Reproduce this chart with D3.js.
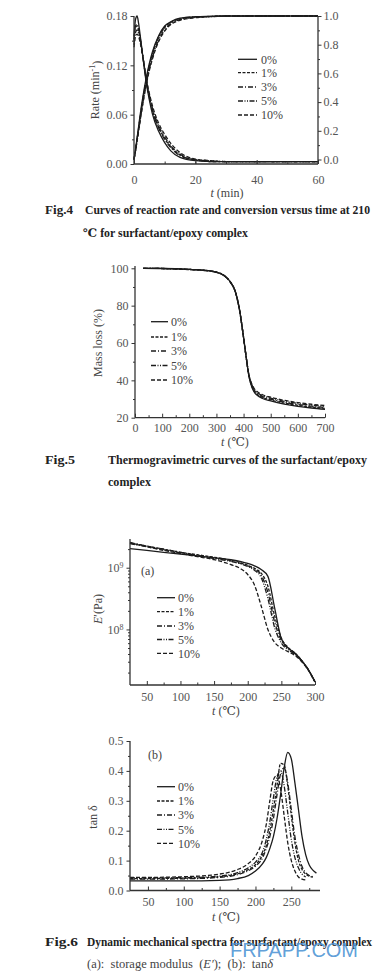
<!DOCTYPE html>
<html>
<head>
<meta charset="utf-8">
<script src="https://cdn.jsdelivr.net/npm/d3@7"></script>
<style>
body{margin:0;background:#fff}
svg{display:block}
text{font-family:"Liberation Serif","DejaVu Serif",serif}
.ax text{fill:#555;font-size:12px;font-family:"Liberation Serif","DejaVu Serif",serif}
.ax{color:#333}
.lab{fill:#444;font-size:12px}
.cap{fill:#222;font-size:11.5px;font-weight:bold}
</style>
</head>
<body>
<svg id="page" width="387" height="973"></svg>
<script>
var seriesNames = ["0%", "1%", "3%", "5%", "10%"]
var dashes = [null, "3,1.5", "5,2,1,2", "5,1.5,1,1.5,1,1.5", "4,2"]

// Fig.4 reaction rate (min^-1) and conversion vs time (min)
var rateTime = [0, 0.5, 1, 1.5, 2, 3, 4, 5, 6, 8, 10, 12, 15, 20, 25, 30, 40, 50, 60]
var rate0  = [.155, .176, .180, .171, .157, .127, .099, .078, .061, .040, .026, .016, .008, .004, .003, .003, .003, .003, .003]
var rate1  = [.150, .166, .168, .163, .153, .128, .102, .082, .066, .045, .031, .021, .011, .005, .003, .003, .003, .003, .003]
var rate3  = [.152, .168, .170, .164, .154, .128, .101, .081, .065, .044, .030, .020, .010, .005, .003, .003, .003, .003, .003]
var rate5  = [.145, .160, .163, .159, .151, .128, .103, .084, .068, .047, .033, .022, .012, .005, .004, .003, .003, .003, .003]
var rate10 = [.142, .155, .158, .155, .148, .127, .104, .086, .071, .050, .036, .025, .014, .006, .004, .003, .003, .003, .003]
var conv0  = [0, .07, .15, .23, .31, .45, .57, .67, .75, .86, .93, .96, .985, .995, .998, 1, 1, 1, 1]
var conv1  = [0, .065, .14, .215, .29, .43, .55, .65, .73, .85, .92, .955, .98, .993, .997, 1, 1, 1, 1]
var conv3  = [0, .066, .142, .218, .295, .435, .555, .655, .735, .853, .922, .957, .982, .994, .997, 1, 1, 1, 1]
var conv5  = [0, .06, .13, .20, .27, .41, .53, .63, .71, .83, .905, .945, .975, .99, .996, .999, 1, 1, 1]
var conv10 = [0, .06, .13, .20, .27, .40, .52, .62, .70, .82, .895, .94, .97, .988, .995, .999, 1, 1, 1]

// Fig.5 mass (%) vs temperature
var tgaTemp = [30, 100, 200, 250, 300, 330, 350, 370, 385, 400, 410, 420, 430, 440, 450, 470, 500, 550, 600, 650, 700]
var mass0  = [100, 99.9, 99.4, 99, 98, 96, 93, 87.5, 78, 63, 52, 42, 36.5, 33.5, 32, 30.3, 29, 27.3, 26.1, 25.2, 24.5]
var mass1  = [100, 99.9, 99.4, 99, 98, 96, 93, 87.4, 77.9, 63, 52, 42.2, 37, 34, 32.5, 30.8, 29.5, 27.8, 26.6, 25.7, 25]
var mass3  = [100, 99.9, 99.4, 99, 97.9, 95.9, 92.9, 87.3, 77.8, 62.9, 52, 42.4, 37.4, 34.5, 33, 31.3, 30, 28.3, 27.1, 26.2, 25.5]
var mass5  = [100, 99.9, 99.4, 98.9, 97.9, 95.9, 92.8, 87.2, 77.7, 62.8, 52, 42.6, 37.8, 35, 33.5, 31.8, 30.5, 28.8, 27.6, 26.7, 26]
var mass10 = [100, 99.9, 99.3, 98.9, 97.8, 95.8, 92.7, 87.1, 77.6, 62.7, 52, 42.8, 38.2, 35.5, 34, 32.3, 31, 29.3, 28.1, 27.2, 26.5]

// Fig.6a log10 of E' (Pa) vs temperature
var dmaTemp = [25, 50, 75, 100, 125, 150, 175, 190, 200, 210, 220, 230, 240, 250, 260, 270, 280, 290, 300]
var logE0  = [9.31, 9.28, 9.25, 9.22, 9.19, 9.16, 9.13, 9.10, 9.07, 9.03, 8.97, 8.86, 8.35, 7.85, 7.70, 7.62, 7.50, 7.35, 7.15]
var logE1  = [9.40, 9.35, 9.30, 9.25, 9.21, 9.17, 9.12, 9.08, 9.04, 8.99, 8.91, 8.70, 8.22, 7.86, 7.71, 7.62, 7.50, 7.35, 7.15]
var logE3  = [9.41, 9.35, 9.30, 9.25, 9.20, 9.16, 9.11, 9.07, 9.03, 8.98, 8.88, 8.60, 8.12, 7.82, 7.69, 7.61, 7.50, 7.35, 7.15]
var logE5  = [9.39, 9.34, 9.29, 9.24, 9.19, 9.15, 9.10, 9.06, 9.02, 8.96, 8.84, 8.50, 8.03, 7.78, 7.67, 7.60, 7.49, 7.35, 7.15]
var logE10 = [9.40, 9.34, 9.28, 9.23, 9.18, 9.13, 9.05, 8.98, 8.89, 8.72, 8.38, 8.00, 7.79, 7.70, 7.64, 7.58, 7.48, 7.34, 7.15]

// Fig.6b tan delta vs temperature
var tanTemp = [25, 50, 100, 150, 175, 190, 200, 210, 215, 220, 225, 230, 235, 240, 245, 250, 255, 260, 265, 270, 275, 280, 285]
var tan0  = [.032, .032, .032, .034, .040, .050, .065, .090, .110, .140, .180, .240, .320, .410, .462, .440, .360, .270, .180, .120, .085, .068, .058]
var tan1  = [.040, .040, .041, .046, .056, .070, .086, .120, .150, .200, .270, .350, .425, .420, .350, .250, .160, .100, .070, .055, .048, .045, null]
var tan3  = [.038, .038, .039, .044, .053, .066, .081, .110, .140, .180, .240, .320, .390, .410, .360, .270, .180, .120, .080, .060, .050, .046, null]
var tan5  = [.042, .042, .043, .048, .060, .076, .095, .130, .170, .230, .310, .380, .400, .350, .260, .170, .110, .075, .055, .045, null, null, null]
var tan10 = [.044, .044, .046, .055, .070, .090, .115, .170, .220, .300, .370, .385, .340, .250, .160, .100, .065, .045, .038, .035, null, null, null]

var svg = d3.select("#page")
var ink = "#1c1c1c"

function bottomAxis(x, y0, major, minor, pad){
    var m = svg.append("g").attr("class", "ax").attr("transform", "translate(0," + y0 + ")")
        .call(d3.axisBottom(x).tickValues(minor).tickSize(-2.5).tickFormat(""))
    m.select(".domain").remove()
    var g = svg.append("g").attr("class", "ax").attr("transform", "translate(0," + y0 + ")")
        .call(d3.axisBottom(x).tickValues(major).tickSize(-4).tickPadding(pad))
    g.select(".domain").remove()
    svg.append("line")
        .attr("x1", x.range()[0]).attr("x2", x.range()[1])
        .attr("y1", y0).attr("y2", y0)
        .attr("stroke", "#333").attr("stroke-width", 1.3)
}

function sideAxis(y, x0, major, minor, fmt, top, bottom, right){
    var mk = right ? d3.axisRight : d3.axisLeft
    var m = svg.append("g").attr("class", "ax").attr("transform", "translate(" + x0 + ",0)")
        .call(mk(y).tickValues(minor).tickSize(2).tickFormat(""))
    m.select(".domain").remove()
    var g = svg.append("g").attr("class", "ax").attr("transform", "translate(" + x0 + ",0)")
        .call(mk(y).tickValues(major).tickSize(3.5).tickPadding(right ? 2 : 3).tickFormat(fmt))
    g.select(".domain").remove()
    svg.append("line")
        .attr("x1", x0).attr("x2", x0)
        .attr("y1", top).attr("y2", bottom)
        .attr("stroke", "#333").attr("stroke-width", 1.3)
    return g
}

function drawSeries(x, y, xs, list){
    list.forEach(function(vals, i){
        var pts = xs.map(function(t, j){ return {t: t, v: vals[j]} })
        var line = d3.line()
            .defined(function(d){ return d.v != null })
            .x(function(d){ return x(d.t) })
            .y(function(d){ return y(d.v) })
            .curve(d3.curveMonotoneX)
        svg.append("path")
            .datum(pts)
            .attr("d", line)
            .attr("fill", "none")
            .attr("stroke", ink)
            .attr("stroke-width", 1.3)
            .attr("stroke-dasharray", dashes[i])
    })
}

function drawLegend(x1, x2, tx, ys){
    seriesNames.forEach(function(name, i){
        svg.append("line")
            .attr("x1", x1).attr("x2", x2)
            .attr("y1", ys[i]).attr("y2", ys[i])
            .attr("stroke", ink).attr("stroke-width", 1.3)
            .attr("stroke-dasharray", dashes[i])
        svg.append("text").attr("class", "lab")
            .attr("x", tx).attr("y", ys[i]).attr("dy", "0.35em")
            .text(name)
    })
}

function yTitle(x, y){
    return svg.append("text").attr("class", "lab")
        .attr("transform", "translate(" + x + "," + y + ") rotate(-90)")
        .attr("text-anchor", "middle").attr("dy", "0.35em")
}

function tTitle(x, y, unit){
    var t = svg.append("text").attr("class", "lab")
        .attr("x", x).attr("y", y).attr("text-anchor", "middle")
    t.append("tspan").attr("font-style", "italic").text("t")
    t.append("tspan").text(unit)
}

function caption(x, y, str, len, cls){
    return svg.append("text").attr("class", cls || "cap")
        .attr("x", x).attr("y", y)
        .attr("textLength", len).attr("lengthAdjust", "spacingAndGlyphs")
        .text(str)
}

// ---------- Fig.4 ----------
var x1 = d3.scaleLinear().domain([0, 60]).range([134, 318])
var yRate = d3.scaleLinear().domain([0, 0.18]).range([164, 16])
var yConv = d3.scaleLinear().domain([0, 1]).range([159.5, 16])

drawSeries(x1, yRate, rateTime, [rate0, rate1, rate3, rate5, rate10])
drawSeries(x1, yConv, rateTime, [conv0, conv1, conv3, conv5, conv10])
bottomAxis(x1, 164, [0, 20, 40, 60], d3.range(10, 60, 10), 11)
sideAxis(yRate, 134, [0, 0.06, 0.12, 0.18], [0.03, 0.09, 0.15], d3.format(".2f"), 16, 164, false)
sideAxis(yConv, 318, [0, 0.2, 0.4, 0.6, 0.8, 1.0], [0.1, 0.3, 0.5, 0.7, 0.9], d3.format(".1f"), 16, 164, true)
drawLegend(238, 257, 261, [59.3, 72.7, 87, 101, 115])
var rt = yTitle(95, 90)
rt.append("tspan").text("Rate (min")
rt.append("tspan").attr("dy", "-0.5em").attr("font-size", "8px").text("-1")
rt.append("tspan").attr("dy", "0.5em").text(")")
tTitle(227, 197, " (min)")

caption(45, 214, "Fig.4", 28)
caption(85, 214, "Curves of reaction rate and conversion versus time at 210", 285)
caption(83, 237, "\u2103  for surfactant/epoxy complex", 165)

// ---------- Fig.5 ----------
var x2 = d3.scaleLinear().domain([0, 700]).range([135, 325])
var yMass = d3.scaleLinear().domain([20, 100]).range([417.7, 268.3])

drawSeries(x2, yMass, tgaTemp, [mass0, mass1, mass3, mass5, mass10])
bottomAxis(x2, 417.7, d3.range(0, 701, 100), d3.range(50, 700, 100), 6)
sideAxis(yMass, 135, [20, 40, 60, 80, 100], [30, 50, 70, 90], d3.format("d"), 266, 417.7, false)
drawLegend(151, 168, 171, [321.7, 337, 351, 365.5, 380])
yTitle(98, 343).text("Mass loss (%)")
tTitle(235, 446, " (\u2103)")

caption(45, 464, "Fig.5", 30)
caption(108, 464, "Thermogravimetric curves of the surfactant/epoxy", 259)
caption(108, 486, "complex", 43)

// ---------- Fig.6a ----------
var x3 = d3.scaleLinear().domain([25, 300]).range([130, 315])
var yE = d3.scaleLog().domain([Math.pow(10, 7.1), Math.pow(10, 9.465)]).range([685, 539])
var eMinor = [2e7, 3e7, 4e7, 5e7, 6e7, 7e7, 8e7, 9e7, 2e8, 3e8, 4e8, 5e8, 6e8, 7e8, 8e8, 9e8, 2e9]

drawSeries(x3, function(v){ return yE(Math.pow(10, v)) }, dmaTemp, [logE0, logE1, logE3, logE5, logE10])
bottomAxis(x3, 685, [50, 100, 150, 200, 250, 300], [75, 125, 175, 225, 275], 7)
var ga = sideAxis(yE, 130, [1e8, 1e9], eMinor, function(){ return "" }, 539, 685, false)
ga.selectAll(".tick").filter(function(d){ return d === 1e8 || d === 1e9 })
    .select("text")
    .each(function(d){
        var t = d3.select(this)
        t.append("tspan").text("10")
        t.append("tspan").attr("dy", "-0.5em").attr("font-size", "8px").text(Math.round(Math.log10(d)))
    })
svg.append("text").attr("class", "lab").attr("x", 141).attr("y", 571).attr("dy", "0.35em").text("(a)")
drawLegend(157, 175, 178, [597.7, 611.7, 626, 639.5, 653.3])
var et = yTitle(98, 609)
et.append("tspan").attr("font-style", "italic").text("E")
et.append("tspan").text("\u2032(Pa)")
tTitle(226, 715, " (\u2103)")

// ---------- Fig.6b ----------
var x4 = d3.scaleLinear().domain([25, 290]).range([130, 320])
var yTan = d3.scaleLinear().domain([0, 0.5]).range([890.5, 741])

drawSeries(x4, yTan, tanTemp, [tan0, tan1, tan3, tan5, tan10])
bottomAxis(x4, 890.5, [50, 100, 150, 200, 250], [75, 125, 175, 225, 275], 7)
sideAxis(yTan, 130, [0, 0.1, 0.2, 0.3, 0.4, 0.5], [0.05, 0.15, 0.25, 0.35, 0.45], d3.format(".1f"), 741, 890.5, false)
svg.append("text").attr("class", "lab").attr("x", 148).attr("y", 755).attr("dy", "0.35em").text("(b)")
drawLegend(157, 175, 178, [786.7, 801, 815, 829.3, 843.3])
yTitle(93, 817).text("tan \u03b4")
tTitle(226, 921, " (\u2103)")

caption(45, 946, "Fig.6", 33)
caption(87, 946, "Dynamic mechanical spectra for surfactant/epoxy complex", 285)
var c2 = svg.append("text").attr("class", "lab").attr("x", 87).attr("y", 968)
    .style("font-size", "12.5px").style("white-space", "pre")
c2.append("tspan").text("(a):  storage modulus  (")
c2.append("tspan").attr("font-style", "italic").text("E\u2032")
c2.append("tspan").text(");  (b):  tan")
c2.append("tspan").attr("font-style", "italic").text("\u03b4")

// watermark
svg.append("text")
    .attr("x", 230).attr("y", 957)
    .attr("textLength", 128).attr("lengthAdjust", "spacingAndGlyphs")
    .attr("fill", "#4d94d4").attr("fill-opacity", 0.9)
    .style("font-family", "'Liberation Sans', Arial, sans-serif")
    .style("font-size", "21px")
    .text("FRPAPP.COM")
</script>
</body>
</html>
